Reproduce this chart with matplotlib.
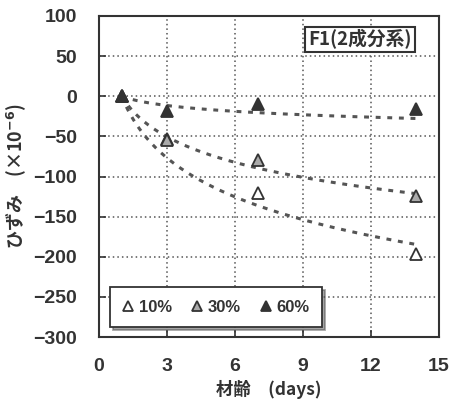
import numpy as np
import matplotlib
matplotlib.use("Agg")
import matplotlib.pyplot as plt

plt.rcParams['font.family'] = ['Noto Sans CJK JP', 'DejaVu Sans']
plt.rcParams['font.weight'] = 'bold'

# Data
days = [1, 3, 7, 14]
series_labels = ["10%", "30%", "60%"]
strain_10 = [0, -53, -121, -196]
strain_30 = [0, -55, -79, -124]
strain_60 = [0, -19, -10, -16]
# logarithmic trend line coefficients (y = c * ln(t))
trend_coef = [-70, -46, -10.5]

x_ticks = [0, 3, 6, 9, 12, 15]
y_ticks = [100, 50, 0, -50, -100, -150, -200, -250, -300]

ink = '#333333'
fig = plt.figure(figsize=(4.51, 4.0), dpi=100)
ax = fig.add_axes([99/451, 63/400, 340/451, 321/400])

t = np.linspace(1, 14, 200)
for c in trend_coef:
    ax.plot(t, c*np.log(t), color='#555555', lw=2.2, ls=(0, (1.6, 2.2)), zorder=2)

face = ['white', '#aaaaaa', ink]
data = [strain_10, strain_30, strain_60]
handles = []
for vals, fc, lab in zip(data, face, series_labels):
    h, = ax.plot(days, vals, ls='none', marker='^', ms=9, mfc=fc, mec=ink, mew=1.3, label=lab, zorder=3)
    handles.append(h)

ax.set_xlim(0, 15)
ax.set_ylim(-300, 100)
ax.set_xticks(x_ticks)
ax.set_yticks(y_ticks)
ax.set_yticklabels([str(v).replace('-', '−') for v in y_ticks])
ax.grid(True, color='#555555', ls=(0, (1, 2)), lw=1.1)
ax.set_axisbelow(True)
ax.tick_params(direction='in', length=5, width=1.2, colors=ink, labelsize=14)
ax.tick_params(axis='y', pad=16)
ax.tick_params(axis='x', pad=15)
for lbl in ax.get_xticklabels() + ax.get_yticklabels():
    lbl.set_fontweight('bold')
    lbl.set_family(['Liberation Sans', 'DejaVu Sans'])
for s in ax.spines.values():
    s.set_color(ink)
    s.set_linewidth(1.5)

ax.set_xlabel('材齢\u3000(days)', fontsize=12.5, fontweight='bold', color=ink, labelpad=4)
ax.set_ylabel('ひずみ\u3000(×10$^{-6}$)', fontsize=13, fontweight='bold', color=ink)
ax.yaxis.set_label_coords(-0.21, 0.5)

ax.text(0.92, 0.958, 'F1(2成分系)', transform=ax.transAxes, ha='right', va='top',
        fontsize=13.5, fontweight='bold', color=ink,
        bbox=dict(boxstyle='square,pad=0.15', fc='white', ec=ink, lw=1.5), zorder=5)

leg = ax.legend(handles=handles, loc='lower left', bbox_to_anchor=(0.033, 0.03), borderaxespad=0,
                ncol=3, frameon=True, fancybox=False, shadow=True, markerscale=0.85,
                handlelength=0.6, handletextpad=0.35, columnspacing=1.2, borderpad=0.75,
                edgecolor=ink, prop={'family': ['Liberation Sans', 'DejaVu Sans'], 'weight': 'bold', 'size': 12})
leg.get_frame().set_linewidth(1.3)
for txt in leg.get_texts():
    txt.set_color(ink)

fig.savefig('out.png', dpi=100)
